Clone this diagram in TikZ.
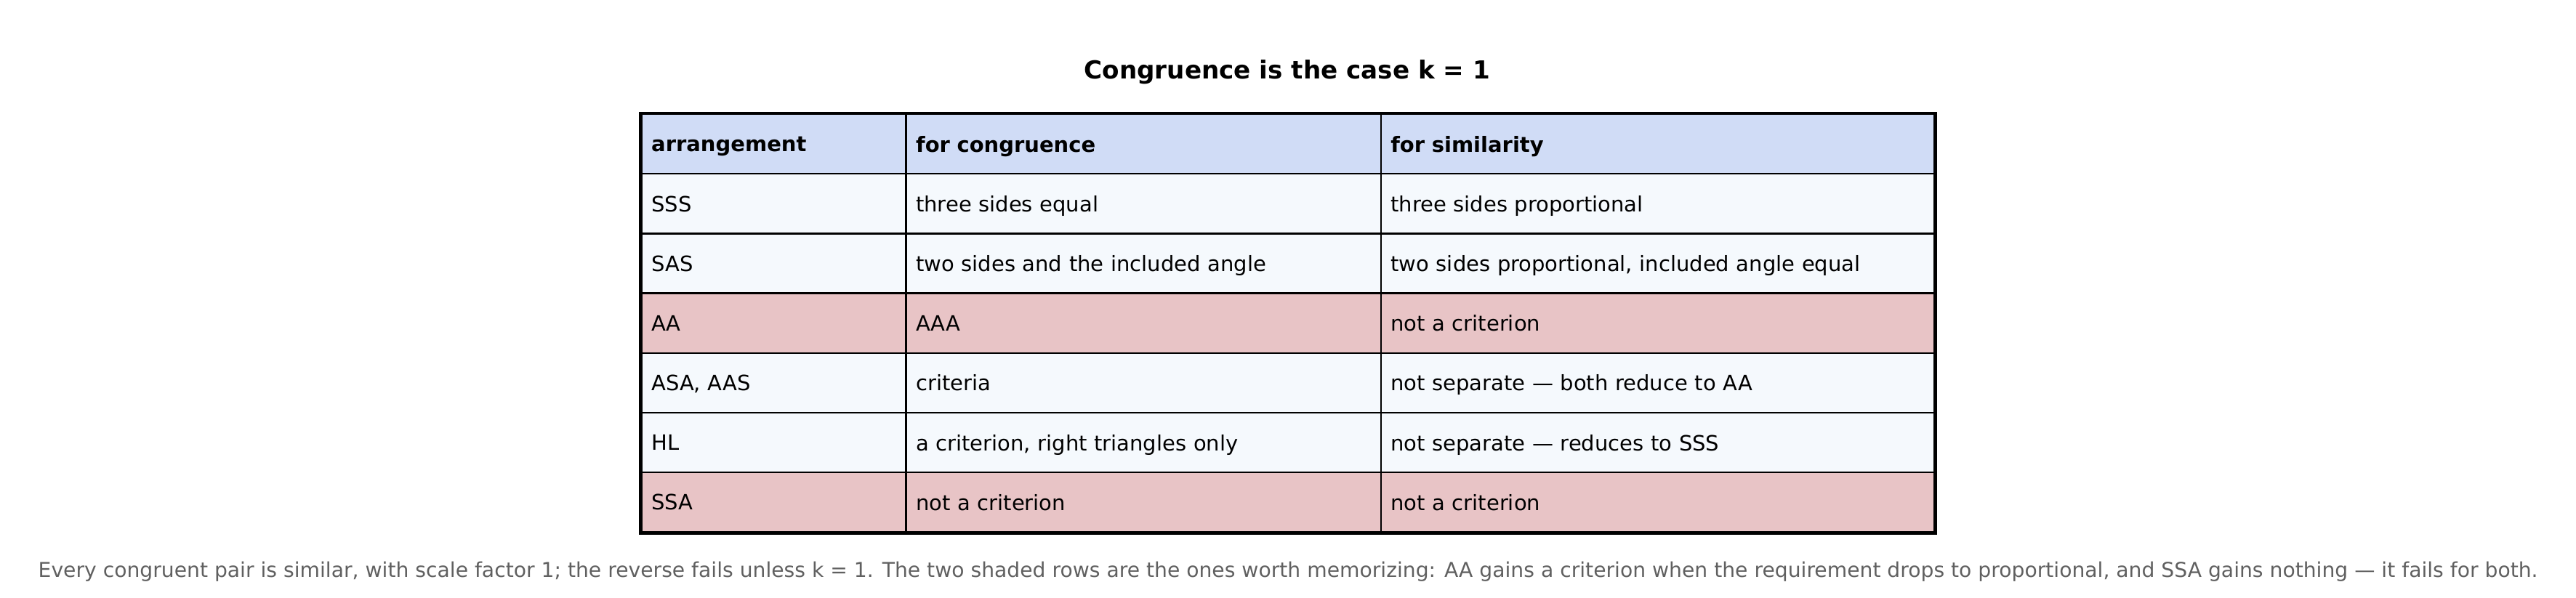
\documentclass[tikz,border=0pt]{standalone}
\usepackage{fontspec}
\setmainfont{DejaVu Sans}
\usetikzlibrary{positioning}
\definecolor{headblue}{HTML}{D0DCF6}
\definecolor{rowpale}{HTML}{F5F9FD}
\definecolor{rowrose}{HTML}{E8C4C6}
\definecolor{capgray}{HTML}{606060}
\tikzset{every picture/.style={line width=0.75pt}}
\tikzset{
  cell/.style={draw=black, line width=0.6pt, anchor=north west, minimum height=0.727cm,
    inner sep=0pt, text depth=0pt, font=\fontsize{7.3}{9}\selectfont, align=left},
  cola/.style={cell, minimum width=3.22cm, text width=2.98cm},
  colb/.style={cell, minimum width=5.78cm, text width=5.54cm},
  colc/.style={cell, minimum width=6.74cm, text width=6.50cm}
}
\begin{document}
\begin{tikzpicture}
  \useasboundingbox (0,0) rectangle (31.36,-7.28);
    \node[font=\fontsize{8.6}{10}\selectfont\bfseries] (title) at (15.67,-0.88) {Congruence is the case k = 1};

    \foreach \i/\fillc/\a/\b/\c in {
      0/headblue/\textbf{arrangement}/\textbf{for congruence}/\textbf{for similarity},
      1/rowpale/SSS/three sides equal/three sides proportional,
      2/rowpale/SAS/two sides and the included angle/{two sides proportional, included angle equal},
      3/rowrose/AA / AAA/not a criterion/a criterion,
      4/rowpale/{ASA, AAS}/criteria/not separate — both reduce to AA,
      5/rowpale/HL/{a criterion, right triangles only}/not separate — reduces to SSS,
      6/rowrose/SSA/not a criterion/not a criterion} {
      \node[cola, fill=\fillc] (a\i) at (7.80,{-1.38-0.727*\i}) {\a};
      \node[colb, fill=\fillc] (b\i) at (11.02,{-1.38-0.727*\i}) {\b};
      \node[colc, fill=\fillc] (c\i) at (16.80,{-1.38-0.727*\i}) {\c};
    }
    \draw[line width=1.1pt] (a0.north west) rectangle (c6.south east);

    \node[text=capgray, font=\fontsize{7.1}{9}\selectfont] (caption) at (15.68,-6.96) {Every congruent pair is similar, with scale factor 1; the reverse fails unless k = 1. The two shaded rows are the ones worth memorizing: AA gains a criterion when the requirement drops to proportional, and SSA gains nothing — it fails for both.};
  \end{tikzpicture}
\end{document}
